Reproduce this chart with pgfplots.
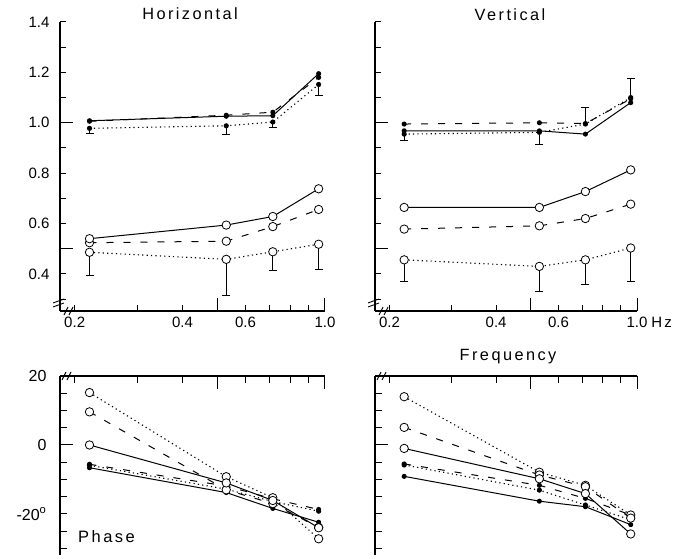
\documentclass[border=0pt]{standalone}
\usepackage{fontspec}
\setmainfont{Liberation Sans}
\newfontfamily\spacedfont[LetterSpace=15]{Liberation Sans}
\usepackage{pgfplots}
\pgfplotsset{compat=1.18}

\tikzset{
  % open-circle series (lower gain group)
  oSolid/.style={black, line width=1pt, solid, mark=*, mark size=4.2pt,
    mark options={solid, fill=white, draw=black, line width=0.8pt}},
  oDashed/.style={oSolid, dash pattern=on 7pt off 10pt},
  oDotted/.style={oSolid, line width=1.1pt, dash pattern=on 1.2pt off 3.2pt},
  % small filled-dot series (upper gain group)
  dSolid/.style={black, line width=1pt, solid, mark=*, mark size=2pt,
    mark options={solid, fill=black}},
  dDashed/.style={dSolid, dash pattern=on 7pt off 10pt},
  dDotted/.style={dSolid, line width=1.1pt, dash pattern=on 1.2pt off 3.2pt},
  % one-sided error bar: a vertical segment with a cap at its far end
  ebar/.style={black, solid, line width=0.9pt, mark=-, mark size=4pt,
    mark options={solid, line width=0.9pt}},
}

\begin{document}
\begin{tikzpicture}[x=1pt, y=1pt]
\useasboundingbox (0,0) rectangle (685,559);

% ---------------- Horizontal gain ----------------
\begin{axis}[
    scale only axis, at={(60pt,248pt)}, anchor=south west,
    width=265pt, height=289pt,
    xmode=log, xmin=0.182, xmax=1, ymin=0.253, ymax=1.4,
    enlargelimits=false, clip=false,
    axis x line*=bottom, axis y line*=left, tick align=inside,
    axis line style={line width=1.2pt},
    tick style={black, line width=1pt},
    major tick length=6pt, minor tick length=6pt,
    xtick={0.2,0.4,0.6,1}, minor xtick={0.3,0.5,0.7,0.8,0.9},
    xticklabels={0.2,0.4,0.6,1.0},
    extra x ticks={0.5,1}, extra x tick labels={},
    extra x tick style={major tick length=13pt},
    ytick={0.4,0.6,0.8,1.0,1.2,1.4}, minor ytick={0.3,0.5,0.7,0.9,1.1,1.3},
    yticklabels={0.4,0.6,0.8,1.0,1.2,1.4},
    extra y ticks={0.5,1.0}, extra y tick labels={},
    extra y tick style={major tick length=13pt},
    tick label style={font=\fontsize{15}{17}\selectfont},
    yticklabel style={xshift=-7pt}, xticklabel style={yshift=-2pt},
  ]
\addplot[ebar, mark indices={2}] coordinates {(0.22,0.978) (0.22,0.958)};
\addplot[ebar, mark indices={2}] coordinates {(0.53,0.988) (0.53,0.955)};
\addplot[ebar, mark indices={2}] coordinates {(0.715,1.003) (0.715,0.980)};
\addplot[ebar, mark indices={2}] coordinates {(0.96,1.152) (0.96,1.108)};
\addplot[dDotted] coordinates {(0.22,0.978) (0.53,0.988) (0.715,1.003) (0.96,1.152)};
\addplot[dDashed] coordinates {(0.22,1.006) (0.53,1.030) (0.715,1.042) (0.96,1.180)};
\addplot[dSolid] coordinates {(0.22,1.008) (0.53,1.026) (0.715,1.028) (0.96,1.195)};
\addplot[ebar, mark indices={2}] coordinates {(0.22,0.486) (0.22,0.394)};
\addplot[ebar, mark indices={2}] coordinates {(0.53,0.458) (0.53,0.315)};
\addplot[ebar, mark indices={2}] coordinates {(0.715,0.488) (0.715,0.414)};
\addplot[ebar, mark indices={2}] coordinates {(0.96,0.518) (0.96,0.418)};
\addplot[oDotted] coordinates {(0.22,0.486) (0.53,0.458) (0.715,0.488) (0.96,0.518)};
\addplot[oDashed] coordinates {(0.22,0.524) (0.53,0.530) (0.715,0.588) (0.96,0.656)};
\addplot[oSolid] coordinates {(0.22,0.540) (0.53,0.594) (0.715,0.628) (0.96,0.738)};
\end{axis}

% ---------------- Vertical gain ----------------
\begin{axis}[
    scale only axis, at={(375pt,248pt)}, anchor=south west,
    width=262pt, height=289pt,
    xmode=log, xmin=0.182, xmax=1, ymin=0.253, ymax=1.4,
    enlargelimits=false, clip=false,
    axis x line*=bottom, axis y line*=left, tick align=inside,
    axis line style={line width=1.2pt},
    tick style={black, line width=1pt},
    major tick length=6pt, minor tick length=6pt,
    xtick={0.2,0.4,0.6,1}, minor xtick={0.3,0.5,0.7,0.8,0.9},
    xticklabels={0.2,0.4,0.6,1.0\rlap{\hspace{4pt}\spacedfont Hz}},
    extra x ticks={0.5,1}, extra x tick labels={},
    extra x tick style={major tick length=13pt},
    ytick={0.4,0.6,0.8,1.0,1.2,1.4}, minor ytick={0.3,0.5,0.7,0.9,1.1,1.3},
    yticklabels={},
    extra y ticks={0.5,1.0}, extra y tick labels={},
    extra y tick style={major tick length=13pt},
    tick label style={font=\fontsize{15}{17}\selectfont},
    xticklabel style={yshift=-2pt},
  ]
\addplot[ebar, mark indices={2}] coordinates {(0.22,0.955) (0.22,0.930)};
\addplot[ebar, mark indices={2}] coordinates {(0.53,0.962) (0.53,0.915)};
\addplot[ebar, mark indices={2}] coordinates {(0.715,0.995) (0.715,1.060)};
\addplot[ebar, mark indices={2}] coordinates {(0.96,1.100) (0.96,1.175)};
\addplot[dDotted] coordinates {(0.22,0.955) (0.53,0.962) (0.715,0.995) (0.96,1.100)};
\addplot[dDashed] coordinates {(0.22,0.995) (0.53,1.000) (0.715,0.997) (0.96,1.095)};
\addplot[dSolid] coordinates {(0.22,0.968) (0.53,0.968) (0.715,0.955) (0.96,1.080)};
\addplot[ebar, mark indices={2}] coordinates {(0.22,0.456) (0.22,0.369)};
\addplot[ebar, mark indices={2}] coordinates {(0.53,0.430) (0.53,0.329)};
\addplot[ebar, mark indices={2}] coordinates {(0.715,0.456) (0.715,0.357)};
\addplot[ebar, mark indices={2}] coordinates {(0.96,0.503) (0.96,0.370)};
\addplot[oDotted] coordinates {(0.22,0.456) (0.53,0.430) (0.715,0.456) (0.96,0.503)};
\addplot[oDashed] coordinates {(0.22,0.578) (0.53,0.591) (0.715,0.620) (0.96,0.677)};
\addplot[oSolid] coordinates {(0.22,0.664) (0.53,0.664) (0.715,0.727) (0.96,0.813)};
\end{axis}

% ---------------- Horizontal phase ----------------
\begin{axis}[
    scale only axis, at={(60pt,4pt)}, anchor=south west,
    width=265pt, height=179pt,
    xmode=log, xmin=0.182, xmax=1, ymin=-31.9, ymax=20,
    enlargelimits=false, clip=false,
    axis x line*=top, axis y line*=left, tick align=inside,
    axis line style={line width=1.2pt},
    tick style={black, line width=1pt},
    major tick length=7pt, minor tick length=7pt,
    xtick={0.2,0.4,0.6,1}, minor xtick={0.3,0.5,0.7,0.8,0.9},
    xticklabels={},
    extra x ticks={0.5,1}, extra x tick labels={},
    extra x tick style={major tick length=13pt},
    ytick={-20,0,20}, minor ytick={-30,-25,-15,-10,-5,5,10,15},
    yticklabels={-20\textsuperscript{o},0,20},
    extra y ticks={0}, extra y tick labels={},
    extra y tick style={major tick length=13pt},
    tick label style={font=\fontsize{16}{18}\selectfont},
    yticklabel style={xshift=-10pt},
  ]
\addplot[dDotted] coordinates {(0.22,-5.9) (0.53,-12.8) (0.715,-16.4) (0.96,-19.2)};
\addplot[dDashed] coordinates {(0.22,-5.6) (0.53,-11.9) (0.715,-15.6) (0.96,-18.7)};
\addplot[dSolid] coordinates {(0.22,-6.6) (0.53,-13.8) (0.715,-18.4) (0.96,-22.4)};
\addplot[oDotted] coordinates {(0.22,15.2) (0.53,-9.2) (0.715,-15.3) (0.96,-27.2)};
\addplot[oDashed] coordinates {(0.22,9.6) (0.53,-13.0) (0.715,-17.0) (0.96,-23.9)};
\addplot[oSolid] coordinates {(0.22,0.0) (0.53,-11.0) (0.715,-16.1) (0.96,-24.0)};
\end{axis}

% ---------------- Vertical phase ----------------
\begin{axis}[
    scale only axis, at={(375pt,4pt)}, anchor=south west,
    width=262pt, height=179pt,
    xmode=log, xmin=0.182, xmax=1, ymin=-31.9, ymax=20,
    enlargelimits=false, clip=false,
    axis x line*=top, axis y line*=left, tick align=inside,
    axis line style={line width=1.2pt},
    tick style={black, line width=1pt},
    major tick length=7pt, minor tick length=7pt,
    xtick={0.2,0.4,0.6,1}, minor xtick={0.3,0.5,0.7,0.8,0.9},
    xticklabels={},
    extra x ticks={0.5,1}, extra x tick labels={},
    extra x tick style={major tick length=13pt},
    ytick={-20,0,20}, minor ytick={-30,-25,-15,-10,-5,5,10,15},
    yticklabels={},
    extra y ticks={0}, extra y tick labels={},
    extra y tick style={major tick length=13pt},
  ]
\addplot[dDotted] coordinates {(0.22,-5.8) (0.53,-13.1) (0.715,-17.4) (0.96,-21.7)};
\addplot[dDashed] coordinates {(0.22,-5.5) (0.53,-11.7) (0.715,-15.5) (0.96,-20.3)};
\addplot[dSolid] coordinates {(0.22,-9.1) (0.53,-16.3) (0.715,-17.9) (0.96,-23.1)};
\addplot[oDotted] coordinates {(0.22,14.0) (0.53,-7.9) (0.715,-11.7) (0.96,-20.3)};
\addplot[oDashed] coordinates {(0.22,5.1) (0.53,-8.7) (0.715,-12.1) (0.96,-21.2)};
\addplot[oSolid] coordinates {(0.22,-1.0) (0.53,-9.8) (0.715,-14.1) (0.96,-25.8)};
\end{axis}

% axis break marks
\begin{scope}[line width=0.9pt]
  \foreach \dx in {0,315} {
    \draw ([xshift=\dx pt]53,252) -- ([xshift=\dx pt]64,256);
    \draw ([xshift=\dx pt]53,256) -- ([xshift=\dx pt]64,260);
    \draw ([xshift=\dx pt]64,244) -- ([xshift=\dx pt]68,252);
    \draw ([xshift=\dx pt]69,244) -- ([xshift=\dx pt]73,252);
    \draw ([xshift=\dx pt]62,179) -- ([xshift=\dx pt]66,187);
    \draw ([xshift=\dx pt]67,179) -- ([xshift=\dx pt]71,187);
  }
\end{scope}

% titles and panel labels
\node[font=\spacedfont\fontsize{16.3}{19}\selectfont] at (190,545) {Horizontal};
\node[font=\spacedfont\fontsize{16.3}{19}\selectfont] at (510,544) {Vertical};
\node[font=\spacedfont\fontsize{16.3}{19}\selectfont] at (508,202) {Frequency};
\node[font=\spacedfont\fontsize{16.5}{19}\selectfont, anchor=west, inner sep=0pt] at (78,22) {Phase};
\end{tikzpicture}
\end{document}
